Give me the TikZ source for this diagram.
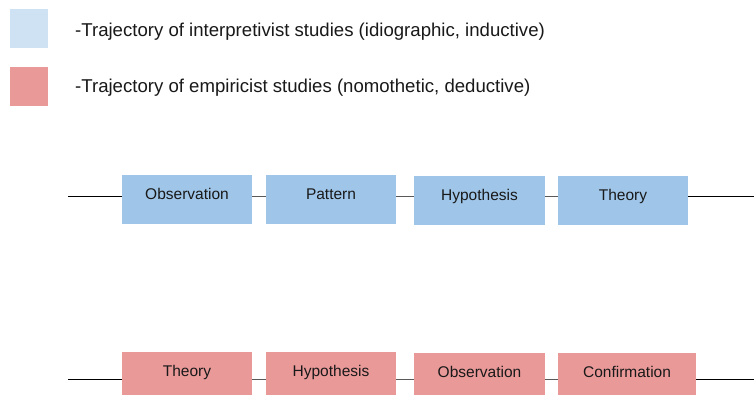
\documentclass[tikz,border=0pt]{standalone}
\usepackage{fontspec}
\setmainfont{Liberation Sans}
\definecolor{legblue}{HTML}{CFE2F3}
\definecolor{boxblue}{HTML}{9FC5E8}
\definecolor{boxred}{HTML}{EA9999}
\definecolor{midline}{HTML}{595959}
\begin{document}
\begin{tikzpicture}[x=1pt,y=1pt,
  stage/.style={inner sep=0pt, minimum height=49pt, text height=11.5pt, text depth=12.5pt,
    font=\fontsize{15.5}{18}\selectfont, text=black!90},
  bluestage/.style={stage, fill=boxblue},
  redstage/.style={stage, fill=boxred},
  legtext/.style={anchor=base west, inner sep=0pt, font=\fontsize{18.6}{22}\selectfont, text=black!90},
  outer/.style={black, line width=0.9pt},
  inner/.style={midline, line width=1.1pt}]
\useasboundingbox (0,0) rectangle (754,394);
\fill[white] (0,0) rectangle (754,394);

% legend
\node[fill=legblue, minimum width=38pt, minimum height=39pt, inner sep=0pt] (kb) at (29,365.5) {};
\node[fill=boxred, minimum width=38pt, minimum height=39pt, inner sep=0pt] (kr) at (29,307.5) {};
\node[legtext] (tb) at (75,357) {-Trajectory of interpretivist studies (idiographic, inductive)};
\node[legtext] (tr) at (75,301) {-Trajectory of empiricist studies (nomothetic, deductive)};

% inductive row
\coordinate (bs) at (68,197.5);
\coordinate (be) at (754,197.5);
\node[bluestage, minimum width=130pt] (b1) at (187,194.5) {Observation};
\node[bluestage, minimum width=130pt] (b2) at (331,194.5) {Pattern};
\node[bluestage, minimum width=131pt] (b3) at (479.5,193.5) {Hypothesis};
\node[bluestage, minimum width=130pt] (b4) at (623,193.5) {Theory};
\draw[outer] (bs) -- (bs -| b1.west);
\draw[inner] (bs -| b1.east) -- (bs -| b2.west);
\draw[inner] (bs -| b2.east) -- (bs -| b3.west);
\draw[inner] (bs -| b3.east) -- (bs -| b4.west);
\draw[outer] (bs -| b4.east) -- (be);

% deductive row
\coordinate (rs) at (68,14.5);
\coordinate (re) at (754,14.5);
\node[redstage, minimum width=130pt] (r1) at (187,17.5) {Theory};
\node[redstage, minimum width=130pt] (r2) at (331,17.5) {Hypothesis};
\node[redstage, minimum width=131pt] (r3) at (479.5,16.5) {Observation};
\node[redstage, minimum width=138pt] (r4) at (627,16.5) {Confirmation};
\draw[outer] (rs) -- (rs -| r1.west);
\draw[inner] (rs -| r1.east) -- (rs -| r2.west);
\draw[inner] (rs -| r2.east) -- (rs -| r3.west);
\draw[inner] (rs -| r3.east) -- (rs -| r4.west);
\draw[outer] (rs -| r4.east) -- (re);
\end{tikzpicture}
\end{document}
